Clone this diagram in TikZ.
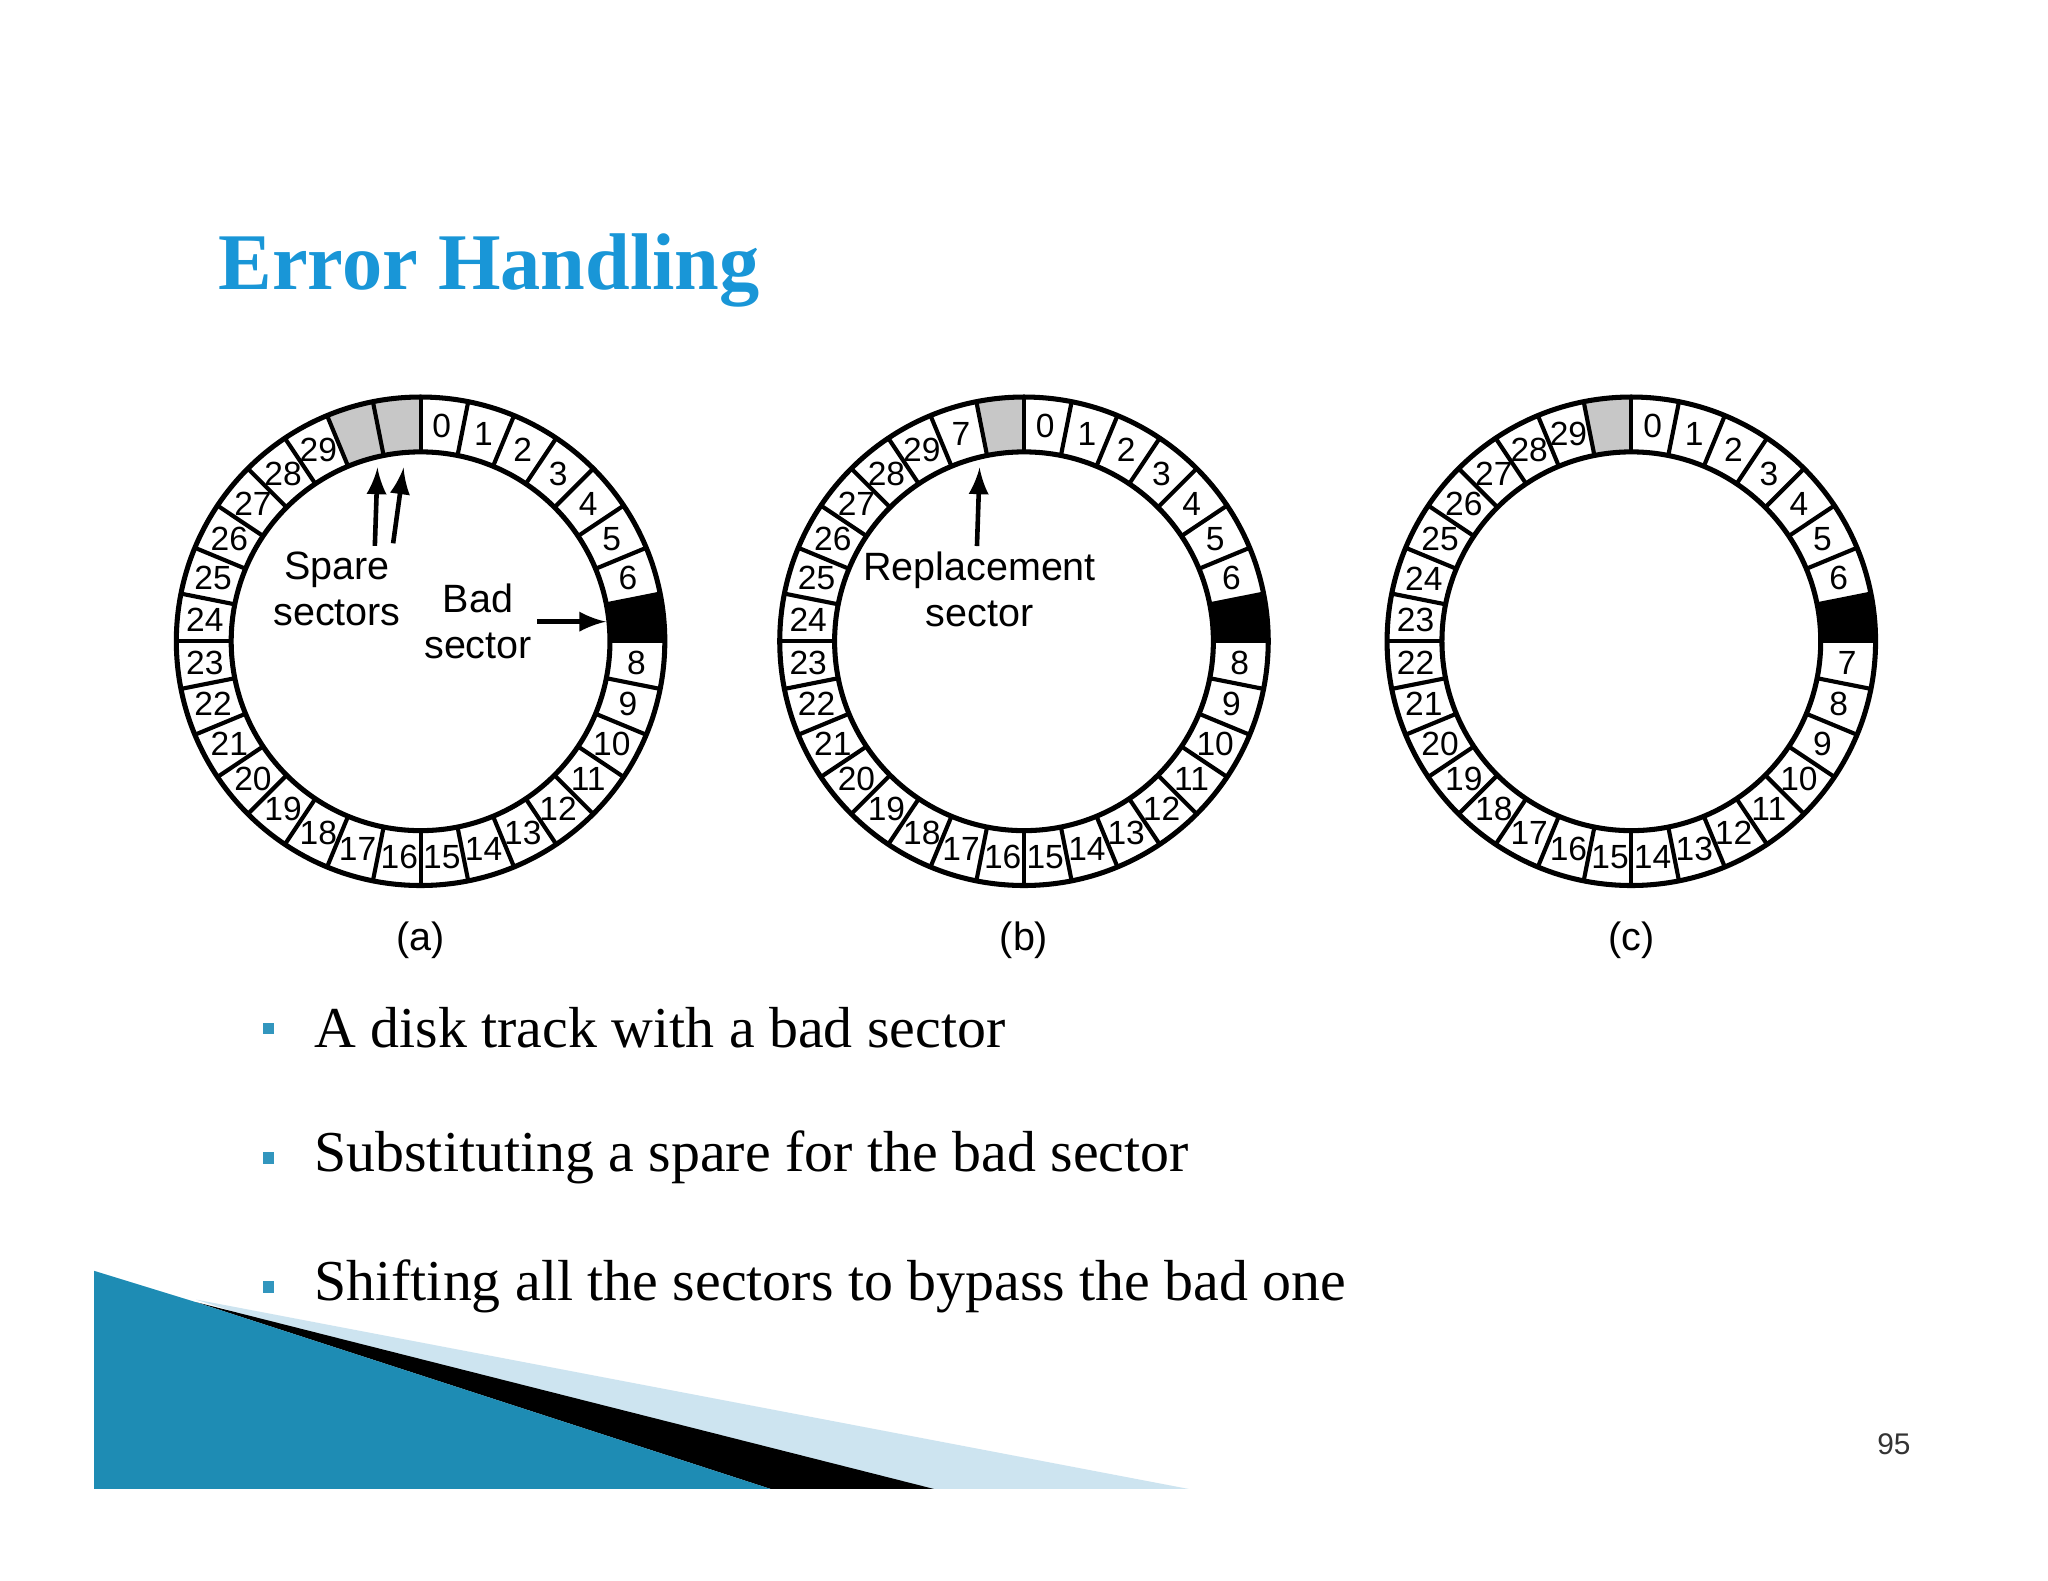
\documentclass[tikz,border=0pt]{standalone}
\usepackage{fontspec}
\setmainfont{Liberation Serif}
\setsansfont{Liberation Sans}
\newfontfamily\labfont{Liberation Sans}
\usetikzlibrary{calc}
\definecolor{teal1}{RGB}{30,140,180}
\definecolor{bulc}{RGB}{50,150,190}
\definecolor{titc}{RGB}{25,150,215}
\definecolor{lightst}{RGB}{205,228,240}
\begin{document}
\begin{tikzpicture}[x=0.01cm,y=0.01cm,
  ring/.style={line width=1.1pt},
  num/.style={font=\labfont\fontsize{7.3}{8}\selectfont, inner sep=0pt},
  lbl/.style={font=\labfont\fontsize{8.6}{10}\selectfont, align=center, inner sep=1pt},
  arr/.style={line width=1pt,-latex},
  bul/.style={font=\fontsize{12.6}{14}\selectfont, anchor=west, inner sep=0pt}]
\useasboundingbox (0,0) rectangle (1568,1210);
\fill[white] (0,0) rectangle (1568,1210);
% bottom decoration
\fill[lightst] (150,215) -- (910,70) -- (600,70) -- cycle;
\fill[black] (150,213) -- (715,70) -- (590,70) -- cycle;
\fill[teal1] (72,237) -- (150,213) -- (590,70) -- (72,70) -- cycle;
% title
\node[anchor=west, font=\bfseries\fontsize{17.5}{20}\selectfont, text=titc] (title) at (155,1003) {Error Handling};
% disks
\def\Ro{187}\def\Ri{145}\def\Rm{166}
\newcommand{\slotfill}[3]{%
  \pgfmathsetmacro\aa{90-11.25*#3}\pgfmathsetmacro\ab{90-11.25*(#3+1)}
  \fill[#1] (#2) ++(\aa:\Ro) arc[start angle=\aa,end angle=\ab,radius=\Ro] -- ($(#2)+(\ab:\Ri)$) arc[start angle=\ab,end angle=\aa,radius=\Ri] -- cycle;}
\newcommand{\disk}[1]{%
  \draw[ring] (#1) circle[radius=\Ro];
  \draw[ring] (#1) circle[radius=\Ri];
  \foreach \k in {0,...,31}{\pgfmathsetmacro\aa{90-11.25*\k}
    \draw[line width=0.9pt] ($(#1)+(\aa:\Ri)$) -- ($(#1)+(\aa:\Ro)$);}}
\newcommand{\slotlabel}[3]{\pgfmathsetmacro\ac{90-11.25*(#2+0.5)}
  \node[num] at ($(#1)+(\ac:\Rm)$) {#3};}
\coordinate (ca) at (322,719);
\coordinate (cb) at (784,719);
\coordinate (cc) at (1249,719);
% disk a
\slotfill{black!22}{ca}{30}\slotfill{black!22}{ca}{31}\slotfill{black}{ca}{7}
\disk{ca}
\foreach \i in {0,...,6,8,9,...,29}{\slotlabel{ca}{\i}{\i}}
% disk b
\slotfill{black!22}{cb}{31}\slotfill{black}{cb}{7}
\disk{cb}
\foreach \i in {0,...,6,8,9,...,29}{\slotlabel{cb}{\i}{\i}}
\slotlabel{cb}{30}{7}
% disk c
\slotfill{black!22}{cc}{31}\slotfill{black}{cc}{7}
\disk{cc}
\foreach \i in {0,...,6}{\slotlabel{cc}{\i}{\i}}
\foreach \i in {7,...,29}{\pgfmathtruncatemacro\j{\i+1}\slotlabel{cc}{\j}{\i}}
% labels and arrows
\node[lbl] (spare) at (258,759) {Spare\\sectors};
\node[lbl] (bad) at (366,734) {Bad\\sector};
\coordinate (s1) at (289,852); \coordinate (s2) at (309,852);
\coordinate (bs) at (464,734);
\coordinate (s1t) at (287,792); \coordinate (s2t) at (301,794);
\draw[arr] (s1t) -- (s1);
\draw[arr] (s2t) -- (s2);
\draw[arr] (bad.east |- bs) -- (bs);
\node[lbl] (repl) at (750,759) {Replacement\\sector};
\coordinate (r1) at (750,852);
\draw[arr] (repl.north -| 748,0) -- (r1);
\node[lbl] (capa) at (322,490) {(a)};
\node[lbl] (capb) at (784,490) {(b)};
\node[lbl] (capc) at (1249,490) {(c)};
% bullets
\foreach \y/\t in {423/A disk track with a bad sector, 324/Substituting a spare for the bad sector, 225/Shifting all the sectors to bypass the bad one}{
  \fill[bulc] (201,\y-5) rectangle (210,\y+4);
  \node[bul] at (240,\y) {\t};}
\node[font=\labfont\fontsize{6.5}{8}\selectfont, text=black!80] (pg) at (1450,104) {95};
\end{tikzpicture}
\end{document}
